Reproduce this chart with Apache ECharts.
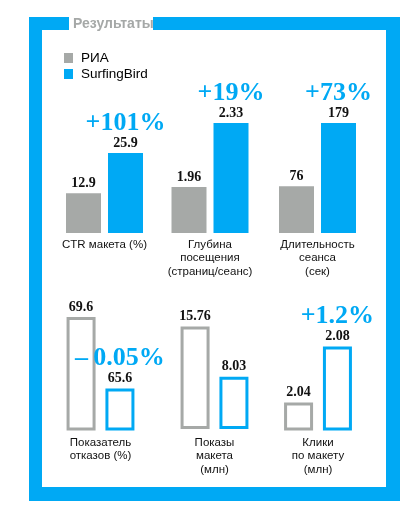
<!DOCTYPE html>
<html><head><meta charset="utf-8">
<script src="https://cdn.jsdelivr.net/npm/echarts@6/dist/echarts.min.js"></script>
<style>html,body{margin:0;padding:0;background:#fff}#c{width:414px;height:513px}</style>
</head><body><div id="c"></div>
<script>
// ---- data ----
const categories = [
  'CTR макета (%)',
  'Глубина\nпосещения\n(страниц/сеанс)',
  'Длительность\nсеанса\n(сек)',
  'Показатель\nотказов (%)',
  'Показы\nмакета\n(млн)',
  'Клики\nпо макету\n(млн)'
];
const seriesNames = ['РИА', 'SurfingBird'];
const riaValues = [12.9, 1.96, 76, 69.6, 15.76, 2.04];
const surfingBirdValues = [25.9, 2.33, 179, 65.6, 8.03, 2.08];
const changeLabels = ['+101%', '+19%', '+73%', '–\u20090.05%', '', '+1.2%'];
const titleText = 'Результаты';

// per-panel value-axis ranges (the infographic uses its own scale in every panel)
const axisMin = [0, 1.694, 0, 63.33, 0, 2.021];
const axisMax = [35.6, 2.33, 179, 69.6, 17.2, 2.101];

// ---- styling / layout ----
const BLUE = '#00a9f4', GREY = '#a6a9a7';
const SANS = '"Liberation Sans", Arial, Helvetica, sans-serif';
const SERIF = '"Liberation Serif", "Times New Roman", serif';
const panels = [
  {cx: 104.5, row: 0}, {cx: 210, row: 0}, {cx: 317.5, row: 0},
  {cx: 100.5, row: 1}, {cx: 214.5, row: 1}, {cx: 318, row: 1}
];
const rows = [
  {top: 123, height: 110, barWidth: 35, barGap: '20%', filled: true, margin: 5},
  {top: 317, height: 112, barWidth: 29, barGap: '34%', filled: false, margin: 7}
];

const grids = [], xAxes = [], yAxes = [], series = [];
const rich = {
  v: {fontFamily: SERIF, fontWeight: 'bold', fontSize: 14, lineHeight: 14, color: '#111', align: 'center'},
  p: {fontFamily: SERIF, fontWeight: 'bold', fontSize: 26, lineHeight: 26, color: BLUE, align: 'center'}
};
panels.forEach((pn, i) => {
  const r = rows[pn.row];
  grids.push({left: pn.cx - 45, width: 90, top: r.top, height: r.height});
  xAxes.push({type: 'category', gridIndex: i, data: [categories[i]],
    axisLine: {show: false}, axisTick: {show: false}, splitLine: {show: false},
    axisLabel: {interval: 0, margin: r.margin, fontFamily: SANS, fontSize: 11.5, lineHeight: 13.5, color: '#111'}});
  yAxes.push({type: 'value', gridIndex: i, min: axisMin[i], max: axisMax[i], show: false});
  const style = c => r.filled ? {color: c} : {color: '#fff', borderColor: c, borderWidth: 3};
  series.push({
    name: seriesNames[0], type: 'bar', xAxisIndex: i, yAxisIndex: i,
    data: [riaValues[i]], barWidth: r.barWidth, barGap: r.barGap,
    itemStyle: style(GREY),
    label: {show: true, position: 'top', distance: 3, rich,
      formatter: p => '{v|' + p.value + '}'}
  });
  series.push({
    name: seriesNames[1], type: 'bar', xAxisIndex: i, yAxisIndex: i,
    data: [surfingBirdValues[i]], barWidth: r.barWidth, barGap: r.barGap,
    itemStyle: style(BLUE),
    label: {show: true, position: 'top', distance: 3, rich,
      formatter: p => (changeLabels[i] ? '{p|' + changeLabels[i] + '}\n' : '') + '{v|' + p.value + '}'}
  });
});

const chart = echarts.init(document.getElementById('c'), null, {renderer: 'canvas'});
chart.setOption({
  animation: false,
  backgroundColor: '#fff',
  legend: {
    orient: 'vertical', left: 64, top: 51, padding: 0, itemWidth: 9, itemHeight: 10, itemGap: 2,
    icon: 'rect', data: seriesNames, selectedMode: false,
    textStyle: {fontFamily: SANS, fontSize: 13.5, lineHeight: 14, color: '#000', padding: [0, 0, 0, 3]}
  },
  grid: grids, xAxis: xAxes, yAxis: yAxes, series,
  graphic: [
    {type: 'rect', shape: {x: 29, y: 17, width: 13, height: 484}, style: {fill: BLUE}, silent: true},
    {type: 'rect', shape: {x: 386, y: 17, width: 14, height: 484}, style: {fill: BLUE}, silent: true},
    {type: 'rect', shape: {x: 29, y: 487, width: 371, height: 14}, style: {fill: BLUE}, silent: true},
    {type: 'rect', shape: {x: 29, y: 17, width: 40, height: 13}, style: {fill: BLUE}, silent: true},
    {type: 'rect', shape: {x: 153, y: 17, width: 247, height: 13}, style: {fill: BLUE}, silent: true},
    {type: 'text', left: 73, top: 17, silent: true,
      style: {text: titleText, fontFamily: SANS, fontWeight: 'bold', fontSize: 14, fill: '#a5a8a7', lineHeight: 14}}
  ]
});
</script></body></html>
